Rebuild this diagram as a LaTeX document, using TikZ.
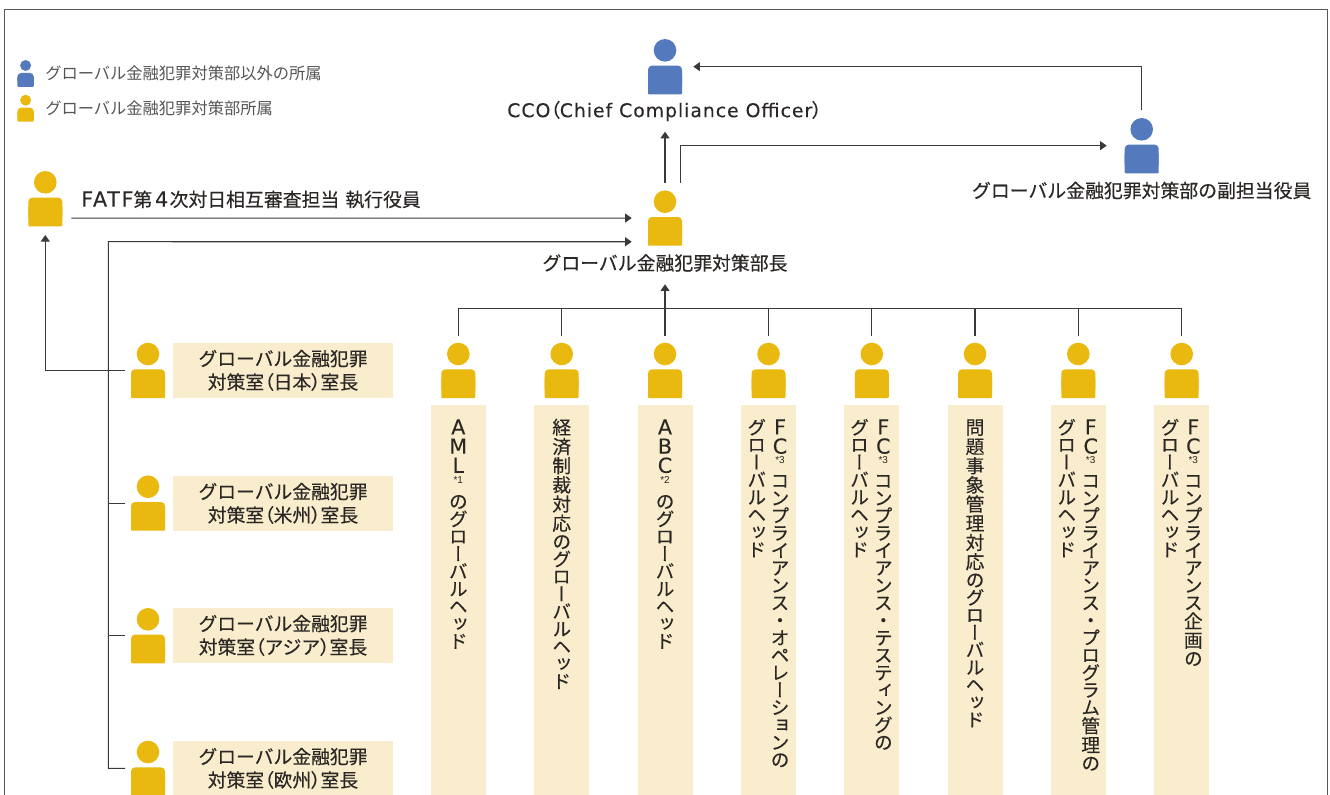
\documentclass[tikz,border=0pt]{standalone}
\usepackage{fontspec}
\usetikzlibrary{calc,arrows.meta}
\setmainfont[FakeBold=0.25]{Noto Sans CJK JP}
\newfontfamily\vjp[RawFeature=+vert,FakeBold=0.25]{Noto Sans CJK JP}
\newfontfamily\pjp[RawFeature=+palt,FakeBold=0.25]{Noto Sans CJK JP}
\newfontfamily\ljp{Noto Sans CJK JP}
\newfontfamily\dv[FakeBold=0.1,LetterSpace=5]{DejaVu Sans}
\newfontfamily\dvw[FakeBold=0.1,LetterSpace=8,Scale=1.1]{DejaVu Sans}
\newfontfamily\lv{Liberation Sans}
\definecolor{ink}{HTML}{2A2725}
\definecolor{pblue}{HTML}{5579BD}
\definecolor{pyellow}{HTML}{E9B90F}
\definecolor{cream}{HTML}{FAEDCD}
\definecolor{legendgray}{HTML}{555555}
\definecolor{linegray}{HTML}{3A3A3A}
\makeatletter
\newcommand\vcell[2]{\hbox to 18pt{\hss\rule{0pt}{#1}\raisebox{\dimexpr#1/2-0.38em\relax}{\smash{#2}}\hss}}
\newcommand\vkan[1]{\@tfor\@vx:=#1\do{\vcell{14.4pt}{\@vx}}}
\newcommand\vkana[1]{\@tfor\@vx:=#1\do{\vcell{13.09pt}{\@vx}}}
\newcommand\vlat[1]{\@tfor\@vx:=#1\do{\vcell{14.4pt}{\dv\fontsize{15.5pt}{15.5pt}\selectfont\@vx}}}
\makeatother
\newcommand\vsup[2]{\hbox to 18pt{\hss\rule{0pt}{#1}\raisebox{\dimexpr#1/2+0.6pt\relax}{\smash{\lv\fontsize{7.5pt}{7.5pt}\selectfont #2}}\hss}}
\newcommand\vstack[1]{\vbox{\offinterlineskip\vjp\fontsize{14.1pt}{14.1pt}\selectfont #1}}
\newcommand\lp{{\pjp （}}
\newcommand\rp{{\pjp ）}}
% #1 name, #2 cx, #3 ytop, #4 colour, #5 size factor
\newcommand\personfig[5]{%
  \node[personbox,minimum width={34*0.75pt*#5},minimum height={55.3*0.75pt*#5}] (#1) at (#2,{#3+27.65*#5}) {};
  \fill[#4] (#2,{#3+11.3*#5}) circle ({11.3*#5});
  \fill[#4,rounded corners=3pt] ({#2-17*#5},{#3+26.6*#5}) rectangle ({#2+17*#5},{#3+50*#5});
  \fill[#4,rounded corners=0.7pt] ({#2-17*#5},{#3+35*#5}) rectangle ({#2+17*#5},{#3+55.3*#5});
}
\tikzset{
  personbox/.style={inner sep=0pt,outer sep=0pt},
  conn/.style={draw=linegray,line width=0.8pt},
  arrowed/.style={conn,-{Triangle[length=5pt,width=6.8pt]},shorten >=0pt},
  lbl/.style={inner sep=0pt,text=ink,font=\fontsize{14.15pt}{17.55pt}\selectfont},
  legendlbl/.style={inner sep=0pt,anchor=west,text=legendgray,font=\ljp\fontsize{12.2pt}{14pt}\selectfont},
  roombox/.style={fill=cream,inner sep=0pt,minimum width=165pt,minimum height=41pt,align=center,text=ink,font=\fontsize{14.1pt}{17.55pt}\selectfont},
  colbox/.style={fill=cream,inner sep=0pt,minimum width=41.25pt,minimum height=300pt,anchor=north},
  vtext/.style={inner sep=0pt,anchor=north,text=ink},
}
\begin{document}
\begin{tikzpicture}[x=0.75pt,y=-0.75pt]
\clip (0,0) rectangle (1330,794);
\fill[white] (0,0) rectangle (1330,794);
% frame
\draw[draw=linegray!85,line width=0.9pt] (4.3,800) -- (4.3,9.5) -- (1327.5,9.5) -- (1327.5,800);
% legend
\personfig{legA}{25.6}{60}{pblue}{0.485}
\personfig{legB}{25.6}{94.7}{pyellow}{0.485}
\node[legendlbl] (legAt) at (45,73.5) {グローバル金融犯罪対策部以外の所属};
\node[legendlbl] (legBt) at (45,108.3) {グローバル金融犯罪対策部所属};
% top people
\personfig{cco}{665}{39}{pblue}{1}
\personfig{chief}{665}{190.4}{pyellow}{1}
\personfig{deputy}{1141.7}{118}{pblue}{1}
\personfig{fatf}{45.3}{171}{pyellow}{1}
\node[lbl] (ccot) at (664.5,111) {{\dv CCO}\lp{\dv Chief Compliance Officer}\rp};
\node[lbl] (chieft) at (665,263) {グローバル金融犯罪対策部長};
\node[lbl] (deputyt) at (1141.7,190.5) {グローバル金融犯罪対策部の副担当役員};
\node[lbl,anchor=west] (fatft) at (81,199.5) {{\dvw FATF}第\hspace{2pt}{\dvw 4}\hspace{1pt}次対日相互審査担当\hspace{4.5pt}執行役員};
% left rooms
\personfig{roomA}{148}{342.7}{pyellow}{1}
\personfig{roomB}{148}{475.4}{pyellow}{1}
\personfig{roomC}{148}{608}{pyellow}{1}
\personfig{roomD}{148}{740.7}{pyellow}{1}
\node[roombox] (boxA) at (283,370.4) {グローバル金融犯罪\\対策室\lp 日本\rp 室長};
\node[roombox] (boxB) at (283,503.4) {グローバル金融犯罪\\対策室\lp 米州\rp 室長};
\node[roombox] (boxC) at (283,635.4) {グローバル金融犯罪\\対策室\lp アジア\rp 室長};
\node[roombox] (boxD) at (283,768.4) {グローバル金融犯罪\\対策室\lp 欧州\rp 室長};
% head row
\personfig{r1}{458.3}{342.7}{pyellow}{1}
\personfig{r2}{561.7}{342.7}{pyellow}{1}
\personfig{r3}{665}{342.7}{pyellow}{1}
\personfig{r4}{768.5}{342.7}{pyellow}{1}
\personfig{r5}{871.8}{342.7}{pyellow}{1}
\personfig{r6}{975}{342.7}{pyellow}{1}
\personfig{r7}{1078.3}{342.7}{pyellow}{1}
\personfig{r8}{1181.7}{342.7}{pyellow}{1}
\node[colbox] (c1) at (458.5,405) {};
\node[colbox] (c2) at (561.5,405) {};
\node[colbox] (c3) at (665.5,405) {};
\node[colbox] (c4) at (768.5,405) {};
\node[colbox] (c5) at (871.5,405) {};
\node[colbox] (c6) at (975.5,405) {};
\node[colbox] (c7) at (1078.5,405) {};
\node[colbox] (c8) at (1181.5,405) {};
% column texts
\node[vtext] (t1) at (458.3,417.4) {\vstack{\vlat{AML}\vsup{13.09pt}{*1}\vkana{のグローバルヘッド}}};
\node[vtext] (t2) at (561.7,417.4) {\vstack{\vkan{経済制裁対応}\vkana{のグローバルヘッド}}};
\node[vtext] (t3) at (665,417.4) {\vstack{\vlat{ABC}\vsup{13.09pt}{*2}\vkana{のグローバルヘッド}}};
\node[vtext] (t4a) at (780,417.4) {\vstack{\vlat{FC}\vsup{11.8pt}{*3}\vkana{コンプライアンス・オペレーションの}}};
\node[vtext] (t4b) at (756.7,418.3) {\vstack{\vkana{グローバルヘッド}}};
\node[vtext] (t5a) at (883.3,417.4) {\vstack{\vlat{FC}\vsup{11.8pt}{*3}\vkana{コンプライアンス・テスティングの}}};
\node[vtext] (t5b) at (859.5,418.3) {\vstack{\vkana{グローバルヘッド}}};
\node[vtext] (t6) at (975,417.4) {\vstack{\vkan{問題事象管理対応}\vkana{のグローバルヘッド}}};
\node[vtext] (t7a) at (1090.7,417.4) {\vstack{\vlat{FC}\vsup{11.8pt}{*3}\vkana{コンプライアンス・プログラム}\vkan{管理}\vkana{の}}};
\node[vtext] (t7b) at (1066.7,418.3) {\vstack{\vkana{グローバルヘッド}}};
\node[vtext] (t8a) at (1193.3,417.4) {\vstack{\vlat{FC}\vsup{11.8pt}{*3}\vkana{コンプライアンス}\vkan{企画}\vkana{の}}};
\node[vtext] (t8b) at (1170,418.3) {\vstack{\vkana{グローバルヘッド}}};
% named free ends
\coordinate (treeY) at (0,308.3);
\coordinate (spine) at (108.3,241.7);
% connectors
\draw[arrowed] ($(deputy.north)+(0,-8)$) |- ($(cco.east)+(11.3,0)$);
\draw[arrowed] ($(chief.north)+(0,-7.7)$) -- ($(cco.south)+(0,37.4)$);
\draw[arrowed] ($(chief.north east)+(-1.3,-7.7)$) |- ($(deputy.west)+(-18,0)$);
\draw[arrowed] ($(fatf.east)+(9,19.4)$) -- ($(chief.west)+(-16.3,0)$);
\draw[arrowed] ($(roomD.west)+(-6,0)$) -| (spine) -- ($(chief.west)+(-16.3,23.7)$);
\draw[conn] ($(roomB.west)+(-6,0)$) -- (spine |- roomB.west);
\draw[conn] ($(roomC.west)+(-6,0)$) -- (spine |- roomC.west);
\draw[arrowed] ($(roomA.west)+(-6,0)$) -| ($(fatf.south)+(0,8.7)$);
\draw[conn] (r1.north |- treeY) -- (r8.north |- treeY);
\draw[conn] ($(r1.north)+(0,-6.7)$) -- (r1.north |- treeY);
\draw[conn] ($(r2.north)+(0,-6.7)$) -- (r2.north |- treeY);
\draw[arrowed] ($(r3.north)+(0,-6.7)$) -- ($(chief.south)+(0,38.6)$);
\draw[conn] ($(r4.north)+(0,-6.7)$) -- (r4.north |- treeY);
\draw[conn] ($(r5.north)+(0,-6.7)$) -- (r5.north |- treeY);
\draw[conn] ($(r6.north)+(0,-6.7)$) -- (r6.north |- treeY);
\draw[conn] ($(r7.north)+(0,-6.7)$) -- (r7.north |- treeY);
\draw[conn] ($(r8.north)+(0,-6.7)$) -- (r8.north |- treeY);
\end{tikzpicture}
\end{document}
